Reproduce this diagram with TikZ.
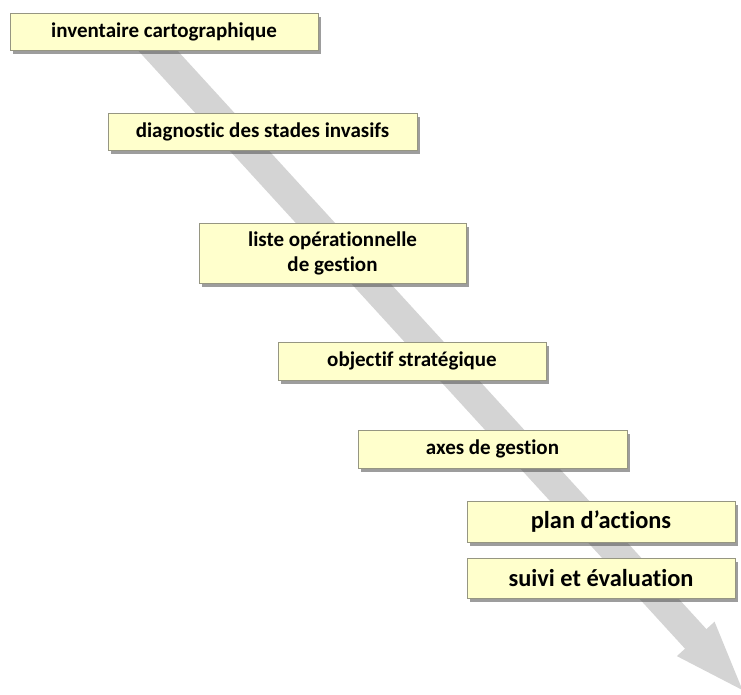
\documentclass[tikz,border=0pt]{standalone}
\usepackage{fontspec}
\setmainfont{Carlito}[Ligatures=NoCommon]
\definecolor{paleyellow}{RGB}{255,255,204}
\definecolor{boxline}{RGB}{150,150,130}
\definecolor{arrowgray}{RGB}{212,212,212}
\usetikzlibrary{arrows.meta, shadows}

\begin{document}
\begin{tikzpicture}[x=0.5pt, y=-0.5pt,
  stage/.style={rectangle, draw=boxline, fill=paleyellow, line width=0.4pt, drop shadow={shadow xshift=1.5pt, shadow yshift=-1.8pt, opacity=0.55, fill=black!70}, font=\fontsize{10.5}{12.5}\selectfont\bfseries, align=center, inner sep=0pt},
  stagebig/.style={stage, font=\fontsize{12.2}{14}\selectfont\bfseries},
  flow/.style={-{Triangle[length=38pt, width=22pt]}, line width=14.5pt, draw=arrowgray}
]
  \useasboundingbox (0,0) rectangle (741,695);

  % big grey arrow behind the steps
  \coordinate (flowstart) at (139,30);
  \coordinate (flowtip) at (747,695);
  \draw[flow] (flowstart) -- (flowtip);

  \node[stage, minimum width=154pt, minimum height=18.5pt] (inv) at (164,31.5) {inventaire cartographique};
  \node[stage, minimum width=154.5pt, minimum height=18.5pt] (diag) at (262.5,131.5) {diagnostic des stades invasifs};
  \node[stage, minimum width=133.5pt, minimum height=30pt] (liste) at (332.5,253) {liste opérationnelle\\de gestion};
  \node[stage, minimum width=134pt, minimum height=19pt] (obj) at (412,361) {objectif stratégique};
  \node[stage, minimum width=134.5pt, minimum height=19pt] (axes) at (492.5,449) {axes de gestion};
  \node[stagebig, minimum width=134pt, minimum height=20.5pt] (plan) at (601,521.5) {plan d’actions};
  \node[stagebig, minimum width=134pt, minimum height=20pt] (suivi) at (601,578) {suivi et évaluation};
\end{tikzpicture}
\end{document}
